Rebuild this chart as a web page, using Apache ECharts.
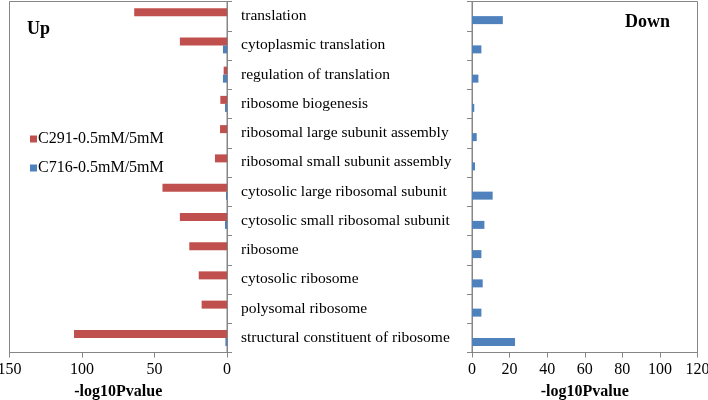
<!DOCTYPE html>
<html>
<head>
<meta charset="utf-8">
<script src="https://cdn.jsdelivr.net/npm/echarts@6/dist/echarts.min.js"></script>
<style>html,body{margin:0;padding:0;background:#fff}#c{width:708px;height:400px}</style>
</head>
<body>
<div id="c"></div>
<script>
const categories = ['translation','cytoplasmic translation','regulation of translation','ribosome biogenesis','ribosomal large subunit assembly','ribosomal small subunit assembly','cytosolic large ribosomal subunit','cytosolic small ribosomal subunit','ribosome','cytosolic ribosome','polysomal ribosome','structural constituent of ribosome'];
const upC291 = [64, 32.5, 2.3, 4.6, 4.8, 8.3, 44.5, 32.5, 26, 19.5, 17.5, 105.5];
const upC716 = [0, 2.8, 2.8, 1.4, 0, 0, 0.7, 1.4, 0, 0, 0, 1.1];
const downC291 = [0, 0, 0, 0, 0, 0, 0, 0, 0, 0, 0, 0];
const downC716 = [16.4, 5.0, 3.4, 1.2, 2.5, 1.6, 11, 6.6, 5.0, 5.7, 5.0, 22.9];
const leftTicks = {min: 0, max: 150, interval: 50};
const rightTicks = {min: 0, max: 120, interval: 20};
const seriesNames = ['C291-0.5mM/5mM', 'C716-0.5mM/5mM'];

const FONT = '"Liberation Serif", "Times New Roman", serif';
const AX = '#868686';
const RED = '#C0504D', BLUE = '#4F81BD';

const chart = echarts.init(document.getElementById('c'), null, {renderer: 'canvas'});
const valAxis = (grid, t) => ({
  type: 'value', gridIndex: grid, min: t.min, max: t.max, interval: t.interval,
  inverse: grid === 0,
  axisLine: {show: true, lineStyle: {color: AX}},
  axisTick: {show: true, length: 5, lineStyle: {color: AX}},
  splitLine: {show: false},
  axisLabel: {color: '#000', fontFamily: FONT, fontSize: 16, margin: 9},
  name: '-log10Pvalue', nameLocation: 'middle', nameGap: 31,
  nameTextStyle: {color: '#000', fontFamily: FONT, fontSize: 16, fontWeight: 'bold'}
});
const catAxis = (grid, pos, showLabel) => ({
  type: 'category', gridIndex: grid, data: categories, inverse: true, position: pos,
  axisLine: {show: true, lineStyle: {color: AX}},
  axisTick: {show: true, length: 5, alignWithLabel: false, lineStyle: {color: AX}},
  axisLabel: {show: showLabel, color: '#000', fontFamily: FONT, fontSize: 15.5, margin: 14, align: 'left'},
  splitLine: {show: false}
});
const bar = (name, data, color, xi) => ({
  name, type: 'bar', data, xAxisIndex: xi, yAxisIndex: xi,
  barWidth: 8, barGap: '0%', itemStyle: {color}, animation: false
});

chart.setOption({
  animation: false,
  grid: [
    {left: 9.5, top: 1.5, width: 217.5, height: 351, show: true, borderColor: AX, borderWidth: 1, outerBoundsMode: 'none', containLabel: false},
    {left: 472, top: 1.5, width: 225.5, height: 351, show: true, borderColor: AX, borderWidth: 1, outerBoundsMode: 'none', containLabel: false}
  ],
  xAxis: [valAxis(0, leftTicks), valAxis(1, rightTicks)],
  yAxis: [catAxis(0, 'right', true), catAxis(1, 'left', false)],
  legend: {
    data: seriesNames, orient: 'vertical', left: 30, top: 131, padding: 0, itemWidth: 7, itemHeight: 7,
    itemGap: 13, icon: 'rect',
    textStyle: {color: '#000', fontFamily: FONT, fontSize: 16, padding: [0, 0, 0, -4]}
  },
  graphic: [
    {type: 'text', left: 27, top: 20, style: {text: 'Up', font: 'bold 18px ' + FONT, fill: '#000'}},
    {type: 'text', left: 625, top: 13, style: {text: 'Down', font: 'bold 18px ' + FONT, fill: '#000'}}
  ],
  series: [
    bar(seriesNames[0], upC291, RED, 0),
    bar(seriesNames[1], upC716, BLUE, 0),
    bar(seriesNames[0], downC291, RED, 1),
    bar(seriesNames[1], downC716, BLUE, 1)
  ]
});
</script>
</body>
</html>
